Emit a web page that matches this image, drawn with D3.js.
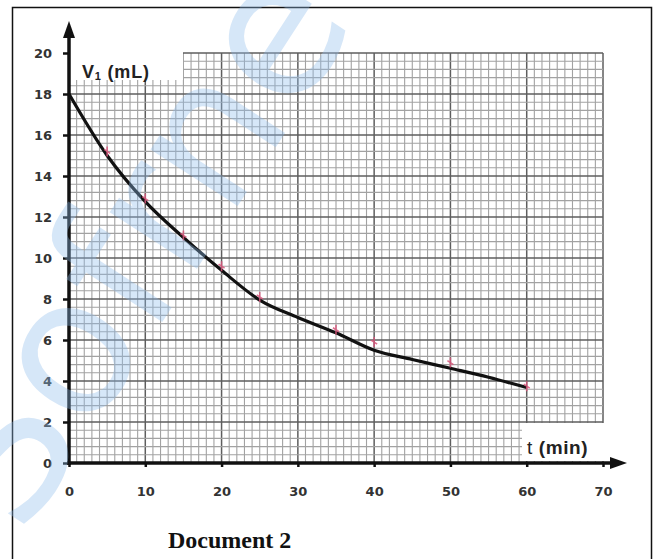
<!DOCTYPE html>
<html>
<head>
<meta charset="utf-8">
<script src="https://cdn.jsdelivr.net/npm/d3@7"></script>
<style>
  body { margin: 0; background: #fff; }
  svg { display: block; }
</style>
</head>
<body>
<div id="chart"></div>
<script>
// measured points (pink marks)
const tPoints = [5, 10, 15, 20, 25, 35, 40, 50, 60];
const vPoints = [15.2, 12.9, 11.1, 9.6, 8.1, 6.5, 5.9, 4.9, 3.75];

// drawn curve through the points
const tCurve = [0, 5, 10, 15, 20, 25, 30, 35, 40, 45, 50, 55, 60];
const vCurve = [18, 15.0, 12.75, 11.0, 9.4, 7.95, 7.1, 6.35, 5.5, 5.05, 4.62, 4.18, 3.68];

const xTicks = [0, 10, 20, 30, 40, 50, 60, 70];
const yTicks = [0, 2, 4, 6, 8, 10, 12, 14, 16, 18, 20];

const W = 657, H = 559;

const svg = d3.select("#chart").append("svg")
    .attr("width", W)
    .attr("height", H);

svg.append("rect").attr("width", W).attr("height", H).attr("fill", "#fff");

// frame
svg.append("rect")
    .attr("x", 12.5).attr("y", 7.5)
    .attr("width", 639).attr("height", 570)
    .attr("fill", "none").attr("stroke", "#111").attr("stroke-width", 1.5);

const x = d3.scaleLinear().domain([0, 70]).range([69, 603]);
const y = d3.scaleLinear().domain([0, 20]).range([463, 53]);

// graph paper
const grid = svg.append("g");
grid.selectAll("line.v")
    .data(d3.range(0, 71, 1))
    .join("line")
        .attr("x1", d => x(d)).attr("x2", d => x(d))
        .attr("y1", y(0)).attr("y2", y(20))
        .attr("stroke", d => d % 10 === 0 ? "#5e5e5e" : "#a2a2a2")
        .attr("stroke-width", d => d % 10 === 0 ? 1.5 : 1.1);
grid.selectAll("line.h")
    .data(d3.range(0, 51, 1).map(i => i * 0.4))
    .join("line")
        .attr("x1", x(0)).attr("x2", x(70))
        .attr("y1", d => y(d)).attr("y2", d => y(d))
        .attr("stroke", (d, i) => i % 5 === 0 ? "#5e5e5e" : "#a2a2a2")
        .attr("stroke-width", (d, i) => i % 5 === 0 ? 1.5 : 1.1);

// white boxes behind the axis titles
svg.append("rect").attr("x", 70).attr("y", 48).attr("width", 113).attr("height", 32).attr("fill", "#fff");
svg.append("rect").attr("x", 522).attr("y", 423).attr("width", 90).attr("height", 38).attr("fill", "#fff");

// curve
const line = d3.line()
    .x(d => x(d[0]))
    .y(d => y(d[1]))
    .curve(d3.curveMonotoneX);
svg.append("path")
    .datum(tCurve.map((t, i) => [t, vCurve[i]]))
    .attr("d", line)
    .attr("fill", "none")
    .attr("stroke", "#111")
    .attr("stroke-width", 3.2);

// pink marks
const marks = svg.append("g")
    .selectAll("g")
    .data(tPoints.map((t, i) => [t, vPoints[i]]))
    .join("g")
        .attr("transform", d => `translate(${x(d[0])},${y(d[1])})`);
marks.append("path")
    .attr("d", "M0,-5V5M-3,-2L3,2")
    .attr("stroke", "#d8577c")
    .attr("stroke-width", 1.6)
    .attr("opacity", 0.85);

// axes
const yAxis = svg.append("g")
    .attr("transform", `translate(${x(0)},0)`)
    .call(d3.axisLeft(y).tickValues(yTicks).tickSize(6).tickPadding(11));
const xAxis = svg.append("g")
    .attr("transform", `translate(0,${y(0)})`)
    .call(d3.axisBottom(x).tickValues(xTicks).tickSize(4).tickPadding(20));
[yAxis, xAxis].forEach(a => {
    a.select(".domain").remove();
    a.selectAll(".tick line").attr("stroke", "#111").attr("stroke-width", 2.5);
    a.selectAll("text")
        .attr("font-family", "DejaVu Sans, sans-serif")
        .attr("font-weight", "bold")
        .attr("font-size", 13)
        .attr("fill", "#333");
});

svg.append("line")
    .attr("x1", x(0)).attr("x2", x(0))
    .attr("y1", y(0) + 2).attr("y2", 34)
    .attr("stroke", "#111").attr("stroke-width", 3.5);
svg.append("path")
    .attr("d", `M${x(0)},21L${x(0) - 6},38L${x(0) + 6},38Z`)
    .attr("fill", "#111");
svg.append("line")
    .attr("x1", x(0) - 2).attr("x2", 616)
    .attr("y1", y(0)).attr("y2", y(0))
    .attr("stroke", "#111").attr("stroke-width", 3.5);
svg.append("path")
    .attr("d", `M627,${y(0)}L610,${y(0) - 6}L610,${y(0) + 6}Z`)
    .attr("fill", "#111");

// axis titles
const vt = svg.append("text")
    .attr("x", 82).attr("y", 78)
    .attr("font-family", "Liberation Sans, Arial, sans-serif")
    .attr("font-weight", "bold")
    .attr("font-size", 18)
    .attr("letter-spacing", 0.8)
    .attr("fill", "#222");
vt.append("tspan").text("V");
vt.append("tspan").attr("font-size", 11).attr("dy", 2).text("1");
vt.append("tspan").attr("dy", -2).text(" (mL)");

const tt = svg.append("text")
    .attr("x", 527).attr("y", 454)
    .attr("font-family", "Liberation Sans, Arial, sans-serif")
    .attr("font-size", 19)
    .attr("letter-spacing", 0.6)
    .attr("fill", "#222");
tt.append("tspan").text("t ");
tt.append("tspan").attr("font-weight", "bold").text("(min)");

svg.append("text")
    .attr("x", 168).attr("y", 548)
    .attr("font-family", "Liberation Serif, Times New Roman, serif")
    .attr("font-weight", "bold")
    .attr("font-size", 24)
    .attr("fill", "#111")
    .text("Document 2");

// watermark
svg.append("text")
    .attr("transform", "translate(22,538) rotate(-57)")
    .attr("font-family", "DejaVu Sans, sans-serif")
    .attr("font-size", 190)
    .attr("fill", "#8fbdec")
    .attr("opacity", 0.36)
    .attr("pointer-events", "none")
    .text("Sofrne");
</script>
</body>
</html>
